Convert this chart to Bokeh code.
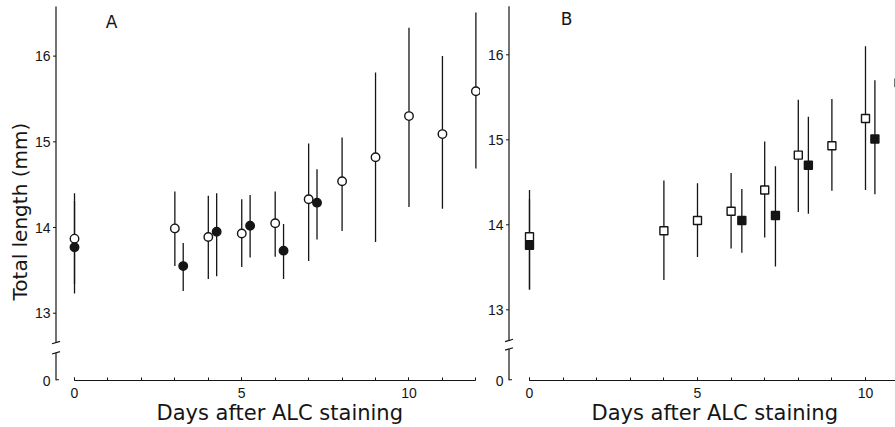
from bokeh.plotting import figure
from bokeh.models import Range1d, FixedTicker, Label, Title
from bokeh.layouts import row
from bokeh.embed import file_html
from bokeh.resources import INLINE

# ---------------- data ----------------
# Panel A : circles
a_open_days = [0, 3, 4, 5, 6, 7, 8, 9, 10, 11, 12]
a_open_mean = [13.87, 13.99, 13.89, 13.93, 14.05, 14.33, 14.54, 14.82, 15.30, 15.09, 15.59]
a_open_low = [13.34, 13.55, 13.40, 13.54, 13.66, 13.61, 13.96, 13.83, 14.24, 14.22, 14.69]
a_open_high = [14.40, 14.42, 14.37, 14.33, 14.42, 14.98, 15.05, 15.81, 16.33, 16.00, 16.51]

a_fill_days = [0, 3.25, 4.25, 5.25, 6.25, 7.25]
a_fill_mean = [13.77, 13.55, 13.95, 14.02, 13.73, 14.29]
a_fill_low = [13.23, 13.26, 13.43, 13.65, 13.40, 13.86]
a_fill_high = [14.31, 13.82, 14.40, 14.38, 14.04, 14.68]

# Panel B : squares
b_open_days = [0, 4, 5, 6, 7, 8, 9, 10, 11]
b_open_mean = [13.86, 13.93, 14.05, 14.16, 14.41, 14.82, 14.93, 15.25, 15.67]
b_open_low = [13.24, 13.35, 13.62, 13.72, 13.85, 14.15, 14.40, 14.41, 14.90]
b_open_high = [14.41, 14.52, 14.49, 14.61, 14.98, 15.47, 15.48, 16.10, 16.45]

b_fill_days = [0, 6.32, 7.32, 8.3, 10.28]
b_fill_mean = [13.76, 14.05, 14.11, 14.70, 15.01]
b_fill_low = [13.24, 13.67, 13.51, 14.13, 14.36]
b_fill_high = [14.30, 14.42, 14.69, 15.27, 15.70]

x_major_ticks = [0, 5, 10]
x_minor_ticks = list(range(0, 13))
y_ticks = [13, 14, 15, 16]
x_title = "Days after ALC staining"
y_title = "Total length (mm)"

INK = "#151515"
TITLE_FONT = "DejaVu Sans"
TICK_FONT = "Liberation Sans"
HEIGHT = 427
BOTTOM = 47


def panel(width, border_left, xr, yr, axis_top, break_hi, break_lo, x_bounds,
          letter, letter_px, xtitle_offset):
    p = figure(width=width, height=HEIGHT, x_range=Range1d(*xr), y_range=Range1d(*yr),
               output_backend="svg", toolbar_location=None,
               min_border_left=border_left, min_border_right=0,
               min_border_top=0, min_border_bottom=BOTTOM)
    p.outline_line_color = None
    p.grid.visible = False
    p.background_fill_color = "white"
    p.border_fill_color = "white"

    fw = width - border_left
    fh = HEIGHT - BOTTOM
    kx = fw / (xr[1] - xr[0])
    ky = fh / (yr[1] - yr[0])
    ax = xr[0] + 4.5 / kx

    # ---- y axis (labels from the axis; line drawn with a break) ----
    ya = p.yaxis[0]
    ya.axis_line_color = None
    ya.major_tick_in = 0
    ya.major_tick_out = 0
    ya.minor_tick_in = 0
    ya.minor_tick_out = 0
    ya.ticker = FixedTicker(ticks=[yr[0]] + y_ticks)
    ya.major_label_overrides = {yr[0]: "0"}
    ya.major_label_standoff = 1
    ya.major_label_text_font = TICK_FONT
    ya.major_label_text_font_size = "14px"
    ya.major_label_text_color = INK

    # axis line pieces
    p.segment(x0=[ax, ax], y0=[break_hi, yr[0]], x1=[ax, ax], y1=[axis_top, break_lo],
              line_color=INK, line_width=1.2)
    # break marks
    p.segment(x0=[ax - 4 / kx, ax - 4 / kx], y0=[break_hi - 1.2 / ky, break_lo - 1.2 / ky],
              x1=[ax + 4 / kx, ax + 4 / kx], y1=[break_hi + 1.2 / ky, break_lo + 1.2 / ky],
              line_color=INK, line_width=1.2)
    # tick stubs and foot at zero
    p.segment(x0=[ax - 3 / kx] * len(y_ticks), y0=y_ticks, x1=[ax] * len(y_ticks), y1=y_ticks,
              line_color=INK, line_width=1.0)
    p.segment(x0=[ax], y0=[yr[0] + 0.6 / ky], x1=[ax + 3 / kx], y1=[yr[0] + 0.6 / ky],
              line_color=INK, line_width=1.2)

    # ---- x axis ----
    xa = p.xaxis[0]
    xa.axis_line_color = INK
    xa.axis_line_width = 1.2
    xa.bounds = x_bounds
    xa.ticker = FixedTicker(ticks=x_major_ticks, minor_ticks=x_minor_ticks)
    xa.major_tick_in = 3
    xa.major_tick_out = 0
    xa.minor_tick_in = 3
    xa.minor_tick_out = 0
    xa.major_tick_line_color = INK
    xa.minor_tick_line_color = INK
    xa.major_label_standoff = 7
    xa.major_label_text_font = TICK_FONT
    xa.major_label_text_font_size = "14px"
    xa.major_label_text_color = INK

    # x title below the tick labels
    p.add_layout(Title(text=x_title, align="left", offset=xtitle_offset, standoff=0,
                       vertical_align="top", text_font=TITLE_FONT, text_font_size="21px",
                       text_font_style="normal", text_color=INK), "below")
    # panel letter
    p.add_layout(Label(x=xr[0] + letter_px[0] / kx, y=yr[1] - letter_px[1] / ky, text=letter,
                       text_font=TITLE_FONT, text_font_size="17px", text_color=INK,
                       text_align="center", text_baseline="middle"))
    return p


pa = panel(480, 51, (-0.688, 12.138), (12.215, 16.649), 16.58, 12.658, 12.538,
           (0, 12), "A", (60, 21), 105)
pb = panel(415, 24, (-0.744, 10.893), (12.168, 16.639), 16.57, 12.639, 12.539,
           (0, 11.5), "B", (62, 18.5), 87)

# y title for panel A
pa.add_layout(Title(text=y_title, align="left", offset=80, standoff=0,
                    vertical_align="bottom", text_font=TITLE_FONT, text_font_size="20px",
                    text_font_style="normal", text_color=INK), "left")

bar_kw = dict(line_color=INK, line_width=1.3)

# Panel A
pa.segment(x0=a_open_days, y0=a_open_low, x1=a_open_days, y1=a_open_high, **bar_kw)
pa.segment(x0=a_fill_days, y0=a_fill_low, x1=a_fill_days, y1=a_fill_high, **bar_kw)
pa.scatter(a_open_days, a_open_mean, marker="circle", size=8.5, fill_color="white",
           line_color=INK, line_width=1.4)
pa.scatter(a_fill_days, a_fill_mean, marker="circle", size=8.5, fill_color=INK,
           line_color=INK, line_width=1.4)

# Panel B
pb.segment(x0=b_open_days, y0=b_open_low, x1=b_open_days, y1=b_open_high, **bar_kw)
pb.segment(x0=b_fill_days, y0=b_fill_low, x1=b_fill_days, y1=b_fill_high, **bar_kw)
pb.scatter(b_open_days, b_open_mean, marker="square", size=8, fill_color="white",
           line_color=INK, line_width=1.4)
pb.scatter(b_fill_days, b_fill_mean, marker="square", size=8, fill_color=INK,
           line_color=INK, line_width=1.4)

layout = row(pa, pb)
open("out.html", "w").write(file_html(layout, INLINE))
